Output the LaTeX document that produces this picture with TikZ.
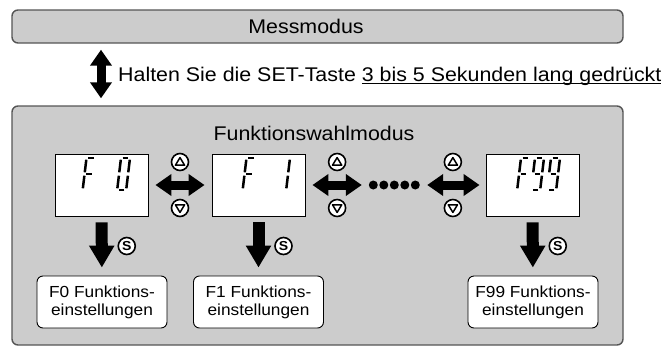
\documentclass[tikz,border=0pt]{standalone}
\usepackage{fontspec}
\setmainfont{Liberation Sans}[FakeStretch=1.08]
\usetikzlibrary{arrows.meta}

\definecolor{panelgray}{HTML}{CCCCCC}
\definecolor{framegray}{HTML}{555555}

\newcommand{\ulhold}[1]{\setbox0\hbox{#1}\rlap{\rule[-2.6pt]{\wd0}{1.3pt}}\box0}

% one slanted seven-segment digit: #1 top left corner, #2 segments as point pairs
\newcommand{\lcddigit}[2]{%
  \begin{scope}[shift={#1}, xslant=0.12]
    \coordinate (tl) at (0,0);
    \coordinate (tr) at (9,0);
    \coordinate (ml) at (0,16);
    \coordinate (mr) at (9,16);
    \coordinate (bl) at (0,32);
    \coordinate (br) at (9,32);
    \foreach \p/\q in {#2} \draw[lcdseg] (\p) -- (\q);
  \end{scope}}

\tikzset{
  panel/.style={draw=framegray, line width=1.4pt, fill=panelgray, rounded corners=6pt},
  lcd/.style={draw=black, line width=0.9pt, fill=white, minimum width=93pt, minimum height=62pt},
  setbox/.style={draw=black, line width=0.9pt, fill=white, rounded corners=6pt,
    minimum width=130pt, minimum height=52pt, align=center, font=\fontsize{16pt}{18pt}\selectfont},
  lcdseg/.style={line width=2.5pt, shorten <=1.7pt, shorten >=1.7pt},
  fatboth/.style={line width=9pt, {Triangle[width=21pt,length=16pt]}-{Triangle[width=21pt,length=16pt]}},
  fatdown/.style={line width=12pt, -{Triangle[width=24pt,length=22pt]}, shorten <=6pt, shorten >=8pt},
  keyring/.style={circle, draw, line width=1.6pt, fill=white, minimum size=17pt, inner sep=0pt},
  keyup/.style={keyring, path picture={
    \draw[line width=1.5pt, line join=round]
      ([shift={(-4.6pt,-3.2pt)}]path picture bounding box.center) --
      ([shift={(4.6pt,-3.2pt)}]path picture bounding box.center) --
      ([shift={(0pt,4.4pt)}]path picture bounding box.center) -- cycle;}},
  keydown/.style={keyring, path picture={
    \draw[line width=1.5pt, line join=round]
      ([shift={(-4.6pt,3.2pt)}]path picture bounding box.center) --
      ([shift={(4.6pt,3.2pt)}]path picture bounding box.center) --
      ([shift={(0pt,-4.4pt)}]path picture bounding box.center) -- cycle;}},
  keyset/.style={keyring, font=\bfseries\fontsize{13pt}{13pt}\selectfont}
}

\begin{document}
\begin{tikzpicture}[x=1pt, y=-1pt, font=\fontsize{19.8pt}{22pt}\selectfont]

  \useasboundingbox (0,0) rectangle (664,346);

  % modes
  \node[panel, minimum width=611pt, minimum height=33pt] (mess) at (317.5,26.5) {};
  \node (messlabel) at (306,26.5) {Messmodus};
  \node[panel, minimum width=611pt, minimum height=239pt] (modus) at (317.5,225.5) {};
  \node (moduslabel) at (314,133) {Funktionswahlmodus};

  \coordinate (updown) at (101,0);
  \draw[fatboth, shorten <=6pt, shorten >=7pt] (mess.south -| updown) -- (modus.north -| updown);
  \node[anchor=base west, inner sep=0pt] (hold) at (118,81.5)
    {Halten Sie die SET-Taste \ulhold{3 bis 5 Sekunden lang gedrückt}};

  % displays
  \node[lcd] (lcd0) at (101.5,185) {};
  \node[lcd] (lcd1) at (258.5,185) {};
  \node[lcd] (lcd99) at (532.5,185) {};
  \node[minimum width=51pt, minimum height=9pt, inner sep=0pt] (dots) at (394.5,185) {};
  \foreach \i in {0,...,4}
    \fill ([xshift=\i*10.5pt+4.5pt]dots.west) circle (4.5pt);

  \lcddigit{(86.5,158)}{tl/tr, tl/ml, ml/mr, ml/bl}
  \lcddigit{(121,158)}{tl/tr, tr/mr, mr/br, br/bl, bl/ml, ml/tl}
  \lcddigit{(246.5,158)}{tl/tr, tl/ml, ml/mr, ml/bl}
  \lcddigit{(281,158)}{tr/mr, mr/br}
  \lcddigit{(521,158)}{tl/tr, tl/ml, ml/mr, ml/bl}
  \lcddigit{(535,158)}{tl/tr, tl/ml, tr/mr, ml/mr, mr/br, br/bl}
  \lcddigit{(551,158)}{tl/tr, tl/ml, tr/mr, ml/mr, mr/br, br/bl}

  % up / down between displays
  \draw[fatboth, shorten <=7pt, shorten >=7pt] (lcd0.east) -- (lcd1.west)
    node[keyup, midway, yshift=23pt] (up0) {} node[keydown, midway, yshift=-23pt] (down0) {};
  \draw[fatboth, shorten <=7pt, shorten >=7pt] (lcd1.east) -- (dots.west)
    node[keyup, midway, yshift=23pt] (up1) {} node[keydown, midway, yshift=-23pt] (down1) {};
  \draw[fatboth, shorten <=7pt, shorten >=6pt] (dots.east) -- (lcd99.west)
    node[keyup, midway, yshift=23pt] (up99) {} node[keydown, midway, yshift=-23pt] (down99) {};

  % settings
  \node[setbox] (set0) at (102,302) {F0 Funktions-\\einstellungen};
  \node[setbox] (set1) at (258.5,302) {F1 Funktions-\\einstellungen};
  \node[setbox] (set99) at (533,302) {F99 Funktions-\\einstellungen};

  \draw[fatdown] (lcd0) -- (set0) node[keyset, midway, xshift=25pt] (s0) {S};
  \draw[fatdown] (lcd1) -- (set1) node[keyset, midway, xshift=25pt] (s1) {S};
  \draw[fatdown] (lcd99) -- (set99) node[keyset, midway, xshift=25pt] (s99) {S};

\end{tikzpicture}
\end{document}
